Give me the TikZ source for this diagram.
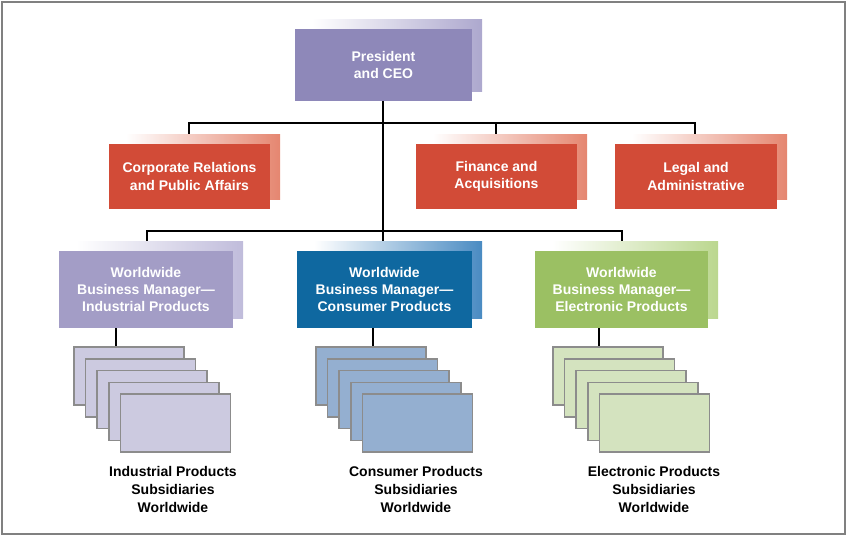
\documentclass[tikz,border=0pt]{standalone}
\usepackage{fontspec}
\setmainfont{Liberation Sans}
\begin{document}
\begin{tikzpicture}[x=0.75pt,y=-0.75pt,
  box/.style={draw=none,inner sep=0,font=\bfseries\fontsize{10.5}{13}\selectfont,text=white,align=center},
  lbl/.style={font=\bfseries\fontsize{10.5}{13.5}\selectfont,align=center},
  card/.style={draw=gray!90,line width=1.2pt},
  ln/.style={line width=1.1pt,black}]
\definecolor{ceo}{HTML}{8E88B9}\definecolor{ceoS}{HTML}{ADA8CE}
\definecolor{red}{HTML}{D24B37}\definecolor{redS}{HTML}{E58670}
\definecolor{ind}{HTML}{A39DC6}\definecolor{indS}{HTML}{C0BCDB}
\definecolor{con}{HTML}{0F68A0}\definecolor{conS}{HTML}{4A8BC2}
\definecolor{ele}{HTML}{9BC063}\definecolor{eleS}{HTML}{BBD78F}
\definecolor{indC}{HTML}{CCCAE0}\definecolor{conC}{HTML}{94AFD0}\definecolor{eleC}{HTML}{D4E3BF}
\useasboundingbox (0,0) rectangle (847,536);
\draw[gray,line width=0.8pt] (2,2) rectangle (845,534);
% connectors
\coordinate (h1l) at (189,123); \coordinate (h1r) at (695,123);
\coordinate (h2l) at (147,231); \coordinate (h2r) at (622,231);
\draw[ln] (383,101) -- (383,251);
\draw[ln] (189,144) -- (h1l) -- (h1r) -- (695,144);
\draw[ln] (496,123) -- (496,144);
\draw[ln] (147,251) -- (h2l) -- (h2r) -- (622,251);
\draw[ln] (116,328) -- (116,347);
\draw[ln] (373,328) -- (373,347);
\draw[ln] (599,328) -- (599,347);
% boxes with shadows
\newcommand{\obox}[8]{%
  \shade[left color=white,right color=#6] (#1+17,#2-10) rectangle (#3+10,#4-10);
  \fill[#5] (#1,#2) rectangle (#3,#4);
  \node[box] (#7) at ({(#1+#3)/2},{(#2+#4)/2}) {#8};}
\obox{295}{29}{472}{101}{ceo}{ceoS}{ceo}{President\\and CEO}
\obox{109}{144}{270}{209}{red}{redS}{corp}{Corporate Relations\\and Public Affairs}
\obox{416}{144}{577}{209}{red}{redS}{fin}{Finance and\\Acquisitions}
\obox{615}{144}{777}{209}{red}{redS}{legal}{Legal and\\Administrative}
\obox{59}{251}{233}{328}{ind}{indS}{ind}{Worldwide\\Business Manager—\\Industrial Products}
\obox{297}{251}{472}{328}{con}{conS}{con}{Worldwide\\Business Manager—\\Consumer Products}
\obox{535}{251}{708}{328}{ele}{eleS}{ele}{Worldwide\\Business Manager—\\Electronic Products}
% card stacks
\foreach \x/\c in {74/indC,316/conC,553/eleC}{
  \foreach \i in {0,...,4}{
    \draw[card,fill=\c] (\x+11.6*\i,347+11.8*\i) rectangle (\x+110+11.6*\i,405+11.8*\i);
  }}
\node[lbl] (l1) at (173,489) {Industrial Products\\Subsidiaries\\Worldwide};
\node[lbl] (l2) at (416,489) {Consumer Products\\Subsidiaries\\Worldwide};
\node[lbl] (l3) at (654,489) {Electronic Products\\Subsidiaries\\Worldwide};
\end{tikzpicture}
\end{document}
